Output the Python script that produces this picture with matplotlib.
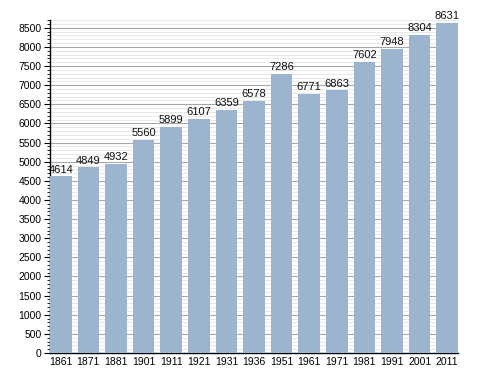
import numpy as np
import matplotlib
matplotlib.use('Agg')
import matplotlib.pyplot as plt
from matplotlib.ticker import MultipleLocator

years = ['1861', '1871', '1881', '1901', '1911', '1921', '1931', '1936',
         '1951', '1961', '1971', '1981', '1991', '2001', '2011']
population = [4614, 4849, 4932, 5560, 5899, 6107, 6359, 6578,
              7286, 6771, 6863, 7602, 7948, 8304, 8631]

plt.rcParams['font.family'] = ['Liberation Sans', 'DejaVu Sans']

fig = plt.figure(figsize=(4.88, 3.73), dpi=100)
ax = fig.add_axes([0.1025, 0.0536, 0.836, 0.8924])

w = 0.78
x = np.arange(len(years))
ax.bar(x, population, width=w, color='#9cb4cf', zorder=3)
for xi, v in zip(x, population):
    ax.text(xi, v + 50, str(v), ha='center', va='bottom', fontsize=8,
            color='#111111', zorder=4)

ax.set_xlim(-w / 2, len(years) - 1 + w / 2)
ax.set_ylim(0, 8700)
ax.set_xticks(x)
ax.set_xticklabels(years)
ax.yaxis.set_major_locator(MultipleLocator(500))
ax.yaxis.set_minor_locator(MultipleLocator(100))
ax.grid(which='major', axis='y', color='#a8a8a8', linewidth=0.8, zorder=1)
ax.grid(which='minor', axis='y', color='#e4e4e4', linewidth=0.6, zorder=0)

for s in ['top', 'right']:
    ax.spines[s].set_visible(False)
ax.spines['left'].set_linewidth(1.0)
ax.spines['bottom'].set_linewidth(1.0)
ax.tick_params(axis='x', length=0, labelsize=7.5, pad=3)
ax.tick_params(axis='y', which='major', length=4, labelsize=7.5, pad=2)
ax.tick_params(axis='y', which='minor', length=2)

fig.savefig('out.png', dpi=100)
